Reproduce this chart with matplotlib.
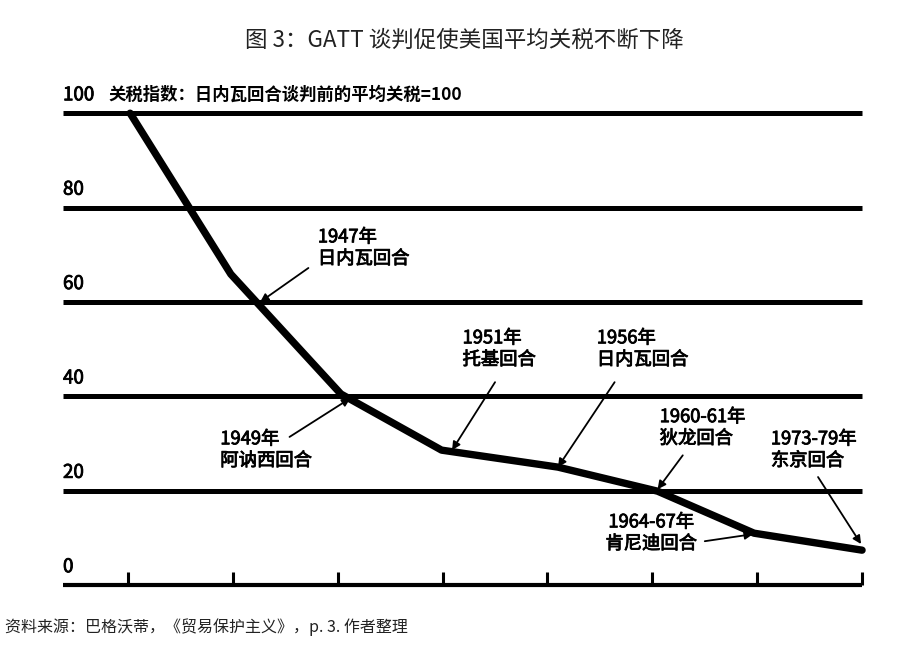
import matplotlib
matplotlib.use("Agg")
import matplotlib.pyplot as plt
import matplotlib.patheffects as pe

plt.rcParams['font.family'] = ['Noto Sans CJK SC', 'DejaVu Sans']

# tariff index (pre-Geneva = 100), x = tick index along the time axis
line_x = [0.02, 0.98, 2.03, 2.99, 4.10, 5.05, 5.97, 7.0]
line_y = [100, 65.9, 40.5, 28.6, 25.0, 19.9, 11.0, 7.4]

grid_levels = [20, 40, 60, 80, 100]
tick_pos = [0, 1, 2, 3, 4, 5, 6, 7]
ylabels = ["0", "20", "40", "60", "80", "100"]
ylabel_vals = [0, 20, 40, 60, 80, 100]

# label text, text anchor (x, top y, align), arrow tail, arrow head
rounds = [
    ("1947年\n日内瓦回合", (1.81, 75.6, 'left'), (1.72, 67.2), (1.26, 60.0)),
    ("1949年\n阿讷西回合", (0.88, 32.8, 'left'), (1.54, 31.4), (2.12, 39.6)),
    ("1951年\n托基回合", (3.19, 54.2, 'left'), (3.50, 43.0), (3.09, 28.6)),
    ("1956年\n日内瓦回合", (4.47, 54.2, 'left'), (4.64, 43.0), (4.10, 25.0)),
    ("1960-61年\n狄龙回合", (5.07, 37.5, 'left'), (5.29, 27.5), (5.05, 20.3)),
    ("1973-79年\n东京回合", (6.13, 32.8, 'left'), (6.58, 22.9), (6.99, 8.7)),
    ("1964-67年\n肯尼迪回合", (4.99, 15.2, 'center'), (5.50, 9.3), (5.96, 10.8)),
]

semi = [pe.withStroke(linewidth=0.6, foreground='black')]

fig = plt.figure(figsize=(8.99, 6.55), dpi=100)
ax = fig.add_axes([0.0701, 0.0916, 0.8977, 0.786])
ax.set_xlim(-0.62, 7.076)
ax.set_ylim(-2.1, 107)
ax.axis('off')

# horizontal reference lines and baseline
ax.hlines(grid_levels, -0.62, 7.0, color='black', linewidth=3.6)
ax.hlines(0, -0.62, 7.0, color='black', linewidth=3.0)
ax.vlines(tick_pos, 0, 2.8, color='black', linewidth=2.2)

for lab, v in zip(ylabels, ylabel_vals):
    ax.text(-0.62, v + 3.9, lab, fontsize=13.5, ha='left', va='center',
            path_effects=semi)

ax.text(-0.19, 103.9, "关税指数：日内瓦回合谈判前的平均关税=100",
        fontsize=12.5, fontweight='bold', ha='left', va='center')

ax.plot(line_x, line_y, color='black', linewidth=5.3,
        solid_joinstyle='round', solid_capstyle='round', clip_on=False)

for txt, (tx, ty, ha), tail, head in rounds:
    ax.text(tx, ty, txt, fontsize=13.2, ha=ha, va='top', linespacing=1.25,
            multialignment='center' if ha == 'center' else 'left',
            path_effects=semi)
    ax.annotate('', xy=head, xytext=tail,
                arrowprops=dict(arrowstyle='-|>', color='black', lw=1.3,
                                mutation_scale=12, shrinkA=0, shrinkB=0))

fig.text(0.516, 0.939, "图 3：GATT 谈判促使美国平均关税不断下降",
         fontsize=16.2, ha='center', va='center', color='#222222')
fig.text(0.006, 0.043, "资料来源：巴格沃蒂，《贸易保护主义》，p. 3. 作者整理",
         fontsize=11.5, ha='left', va='center', color='#222222')

fig.savefig('out.png', dpi=100)
